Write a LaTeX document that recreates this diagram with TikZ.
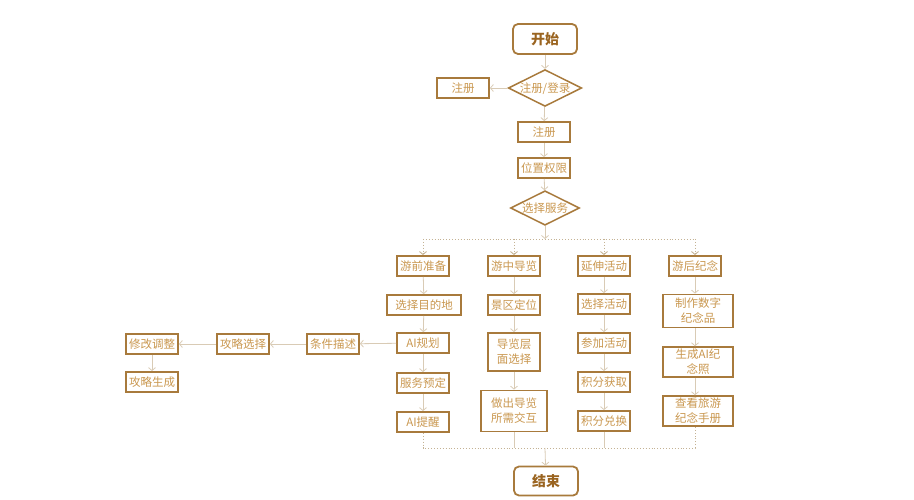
\documentclass[tikz,border=0pt]{standalone}
\usepackage{fontspec}
\setmainfont{Noto Sans CJK SC}
\usetikzlibrary{shapes.geometric,arrows.meta}
\definecolor{boxc}{HTML}{A87A3C}
\definecolor{txtc}{HTML}{C9974F}
\definecolor{endc}{HTML}{9A6420}
\definecolor{linec}{HTML}{D9CBB5}
\definecolor{busc}{HTML}{C4B294}
\tikzset{
  box/.style={draw=boxc, line width=1.8pt, text=txtc, minimum width=52pt,
    minimum height=20pt, inner sep=2pt, align=center,
    font=\fontsize{11.5}{15}\selectfont},
  choice/.style={draw=boxc, line width=1.5pt, text=txtc, shape=diamond,
    aspect=2, inner sep=0.5pt, text height=9.5pt, text depth=0.5pt,
    font=\fontsize{11.5}{14}\selectfont},
  term/.style={draw=boxc, line width=1.8pt, rounded corners=5pt, text=endc,
    minimum width=64pt, minimum height=30pt, font=\fontsize{14}{16}\selectfont\bfseries},
  link/.style={draw=linec, line width=0.8pt, -{Straight Barb[length=3pt,width=7pt]}},
  plain/.style={draw=linec, line width=0.8pt},
  bus/.style={draw=busc, line width=0.9pt, dotted}
}
\begin{document}
\begin{tikzpicture}[x=1pt,y=-1pt]
  \useasboundingbox (0,0) rectangle (914,500);
  % main column
  \node[term] (start) at (545,39) {开始};
  \node[choice] (login) at (545,88) {注册/登录};
  \node[box] (reg0) at (463,88) {注册};
  \node[box] (reg) at (544,132) {注册};
  \node[box] (perm) at (544,168) {位置权限};
  \node[choice] (serv) at (545,208) {选择服务};
  \coordinate (top) at (545,239);
  \coordinate (bot) at (545,448);
  \node[term, minimum height=29pt] (end) at (546,481) {结束};
  % column 1
  \node[box] (a1) at (423,266) {游前准备};
  \node[box, minimum width=74pt] (a2) at (424,305) {选择目的地};
  \node[box] (a3) at (423,343) {AI规划};
  \node[box] (a4) at (423,383) {服务预定};
  \node[box] (a5) at (423,422) {AI提醒};
  % side branch
  \node[box] (s1) at (333,344) {条件描述};
  \node[box] (s2) at (243,344) {攻略选择};
  \node[box] (s3) at (152,344) {修改调整};
  \node[box] (s4) at (152,382) {攻略生成};
  % column 2
  \node[box] (b1) at (514,266) {游中导览};
  \node[box] (b2) at (514,305) {景区定位};
  \node[box, minimum height=38pt] (b3) at (514,352) {导览层\\面选择};
  \node[box, minimum width=66pt, minimum height=41pt] (b4) at (514,411) {做出导览\\所需交互};
  % column 3
  \node[box] (c1) at (604,266) {延伸活动};
  \node[box] (c2) at (604,304) {选择活动};
  \node[box] (c3) at (604,343) {参加活动};
  \node[box] (c4) at (604,382) {积分获取};
  \node[box] (c5) at (604,421) {积分兑换};
  % column 4
  \node[box] (d1) at (695,266) {游后纪念};
  \node[box, minimum width=70pt, minimum height=33pt] (d2) at (698,311) {制作数字\\纪念品};
  \node[box, minimum width=70pt, minimum height=29pt] (d3) at (698,362) {生成AI纪\\念照};
  \node[box, minimum width=70pt, minimum height=29pt] (d4) at (698,411) {查看旅游\\纪念手册};
  % connectors
  \draw[link] (start) -- (login);
  \draw[link] (login) -- (reg0);
  \draw[link] (login) -- (reg);
  \draw[link] (reg) -- (perm);
  \draw[link] (perm) -- (serv);
  \draw[link] (serv) -- (top);
  \draw[bus] (a1 |- top) -- (d1 |- top);
  \foreach \n in {a1,b1,c1,d1}
    \draw[bus, -{Straight Barb[length=3pt,width=7pt]}] (\n |- top) -- (\n.north);
  \draw[link] (a1) -- (a2);
  \draw[link] (a2) -- (a3);
  \draw[link] (a3) -- (a4);
  \draw[link] (a4) -- (a5);
  \draw[link] (a3) -- (s1);
  \draw[link] (s1) -- (s2);
  \draw[link] (s2) -- (s3);
  \draw[link] (s3) -- (s4);
  \draw[link] (b1) -- (b2);
  \draw[link] (b2) -- (b3);
  \draw[link] (b3) -- (b4);
  \draw[link] (c1) -- (c2);
  \draw[link] (c2) -- (c3);
  \draw[link] (c3) -- (c4);
  \draw[link] (c4) -- (c5);
  \draw[link] (d1.south) -- (d1.south |- d2.north);
  \draw[link] (d2.south -| d1) -- (d3.north -| d1);
  \draw[link] (d3.south -| d1) -- (d4.north -| d1);
  \draw[bus] (a5.south) -- (a5 |- bot) -- (d1 |- bot) -- (d4.south -| d1);
  \draw[plain] (b4.south) -- (b4 |- bot);
  \draw[plain] (c5.south) -- (c5 |- bot);
  \draw[link] (bot) -- (end);
\end{tikzpicture}
\end{document}
